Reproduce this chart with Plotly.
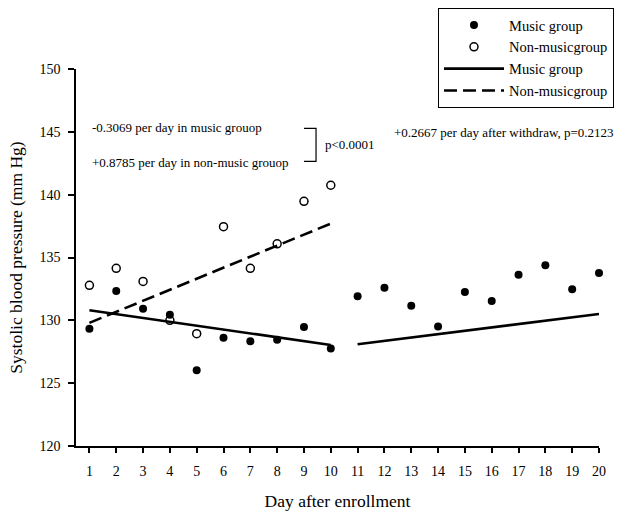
import plotly.graph_objects as go

# ---- data ----
days_a = [1, 2, 3, 4, 5, 6, 7, 8, 9, 10]
music_bp = [129.34, 132.33, 130.93, 130.45, 126.02, 128.62, 128.33, 128.46, 129.47, 127.75]
nonmusic_bp = [132.79, 134.14, 133.10, 130.00, 128.94, 137.45, 134.14, 136.09, 139.47, 140.75]
days_b = [11, 12, 13, 14, 15, 16, 17, 18, 19, 20]
withdraw_bp = [131.91, 132.60, 131.17, 129.50, 132.25, 131.54, 133.63, 134.38, 132.47, 133.77]

fit_days_a = [1, 10]
music_fit = [130.80, 128.04]
nonmusic_fit = [129.80, 137.70]
fit_days_b = [11, 20]
withdraw_fit = [128.10, 130.50]

x_ticks = list(range(1, 21))
y_ticks = [120, 125, 130, 135, 140, 145, 150]

FONT = "Liberation Serif, Times New Roman, serif"

fig = go.Figure()
fig.add_trace(go.Scatter(x=days_a, y=music_bp, mode="markers", name="Music group",
                         marker=dict(symbol="circle", size=8, color="black"),
                         cliponaxis=False))
fig.add_trace(go.Scatter(x=days_a, y=nonmusic_bp, mode="markers", name="Non-musicgroup",
                         marker=dict(symbol="circle-open", size=8, color="black",
                                     line=dict(width=1.5, color="black")),
                         cliponaxis=False))
fig.add_trace(go.Scatter(x=fit_days_a, y=music_fit, mode="lines", name="Music group",
                         line=dict(color="black", width=2.6), legendgroup="mline"))
fig.add_trace(go.Scatter(x=fit_days_a, y=nonmusic_fit, mode="lines", name="Non-musicgroup",
                         line=dict(color="black", width=2.6, dash="13px,6px")))
fig.add_trace(go.Scatter(x=days_b, y=withdraw_bp, mode="markers", name="Music group",
                         marker=dict(symbol="circle", size=8, color="black"),
                         showlegend=False, cliponaxis=False))
fig.add_trace(go.Scatter(x=fit_days_b, y=withdraw_fit, mode="lines", name="Music group",
                         line=dict(color="black", width=2.6), showlegend=False,
                         legendgroup="mline"))

ann_font = dict(family=FONT, size=13, color="black")
fig.add_annotation(x=1.02, y=145.35, text="-0.3069 per day in music grouop", showarrow=False,
                   xanchor="left", yanchor="middle", font=ann_font)
fig.add_annotation(x=1.02, y=142.57, text="+0.8785 per day in non-music grouop", showarrow=False,
                   xanchor="left", yanchor="middle", font=ann_font)
fig.add_annotation(x=9.71, y=144.0, text="p<0.0001", showarrow=False,
                   xanchor="left", yanchor="middle", font=ann_font)
fig.add_annotation(x=12.28, y=144.96, text="+0.2667 per day after withdraw, p=0.2123",
                   showarrow=False, xanchor="left", yanchor="middle", font=ann_font)
fig.add_shape(type="path", xref="x", yref="y",
              path="M 9.0,145.27 L 9.45,145.27 L 9.45,142.65 L 9.0,142.65",
              line=dict(color="black", width=1.2))

fig.update_layout(
    width=620, height=511,
    margin=dict(l=76, r=21, t=69, b=65, autoexpand=False),
    paper_bgcolor="white", plot_bgcolor="white",
    font=dict(family=FONT, color="black", size=14),
    legend=dict(xref="container", yref="container", x=0.9903, y=0.9843,
                xanchor="right", yanchor="top",
                bgcolor="white", bordercolor="black", borderwidth=1,
                font=dict(family=FONT, size=14.5, color="black"),
                itemwidth=60, tracegroupgap=0),
    showlegend=True,
)
fig.update_xaxes(range=[0.5, 20], tickmode="array", tickvals=x_ticks,
                 ticktext=[str(t) for t in x_ticks],
                 showline=True, linecolor="black", linewidth=1.5,
                 ticks="outside", ticklen=5, tickwidth=1.5, tickcolor="black",
                 showgrid=False, zeroline=False, ticklabelstandoff=6,
                 tickfont=dict(family=FONT, size=14),
                 title=dict(text="Day after enrollment", font=dict(family=FONT, size=17.5),
                            standoff=18))
fig.update_yaxes(range=[120, 150], tickmode="array", tickvals=y_ticks,
                 showline=True, linecolor="black", linewidth=1.5,
                 ticks="outside", ticklen=6, tickwidth=1.5, tickcolor="black",
                 showgrid=False, zeroline=False, ticklabelstandoff=5,
                 tickfont=dict(family=FONT, size=14),
                 title=dict(text="Systolic blood pressure (mm Hg)",
                            font=dict(family=FONT, size=17.5), standoff=12))

fig.write_html("out.html", config={"displayModeBar": False},
               post_script="document.body.style.margin='0';")
